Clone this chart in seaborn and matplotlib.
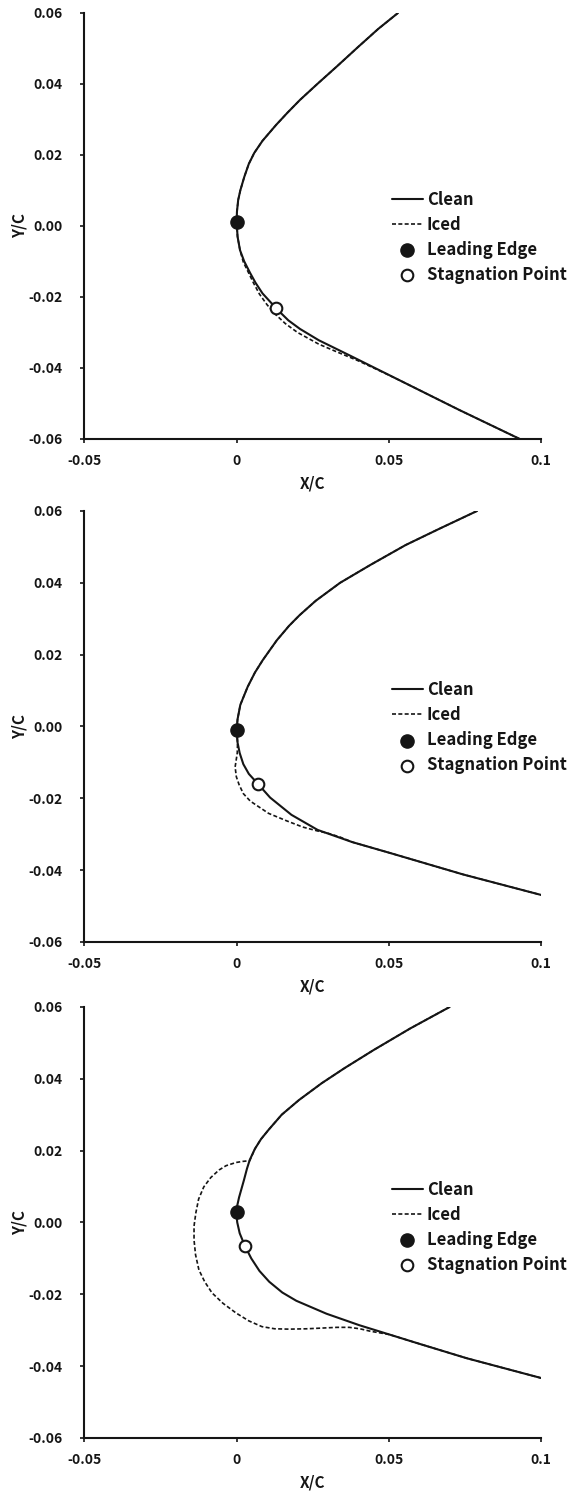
import matplotlib
matplotlib.use("Agg")
import matplotlib.pyplot as plt
import seaborn as sns

# ---------------------------------------------------------------------------
# Leading-edge geometry (X/C, Y/C) for three icing cases
# ---------------------------------------------------------------------------
# Case 1
clean1_x = [0.053, 0.0465, 0.040, 0.033, 0.0265, 0.0208, 0.0168, 0.0130, 0.0085, 0.0058,
            0.0040, 0.0025, 0.0012, 0.0005, 0.0001, 0.0000, 0.0003, 0.0011, 0.0025, 0.0044,
            0.0062, 0.0085, 0.0132, 0.0170, 0.0208, 0.0270, 0.0372, 0.0536, 0.0733, 0.093]
clean1_y = [0.060, 0.0555, 0.0505, 0.045, 0.040, 0.0355, 0.0320, 0.0285, 0.0240, 0.0206,
            0.0175, 0.0138, 0.0100, 0.0073, 0.0040, 0.0011, -0.0030, -0.0068, -0.0100, -0.0132,
            -0.0160, -0.0190, -0.0234, -0.0266, -0.0290, -0.0322, -0.0365, -0.0435, -0.0519, -0.060]
iced1_x = [0.053, 0.0465, 0.040, 0.033, 0.0265, 0.0208, 0.0168, 0.0130, 0.0085, 0.0058,
           0.0040, 0.0025, 0.0012, 0.0005, 0.0001, 0.0000, 0.0003, 0.0011, 0.0022, 0.0037,
           0.0055, 0.0075, 0.0100, 0.0125, 0.0160, 0.0200, 0.0270, 0.0330, 0.0400, 0.0480,
           0.0536, 0.0733, 0.093]
iced1_y = [0.060, 0.0555, 0.0505, 0.045, 0.040, 0.0355, 0.0320, 0.0285, 0.0240, 0.0206,
           0.0175, 0.0138, 0.0100, 0.0073, 0.0040, 0.0011, -0.0030, -0.0068, -0.0102, -0.0128,
           -0.0160, -0.0192, -0.0222, -0.0247, -0.0275, -0.0300, -0.0333, -0.0355, -0.0380, -0.0412,
           -0.0435, -0.0519, -0.060]
le1 = (0.0, 0.001)
sp1 = (0.013, -0.023)

# Case 2
clean2_x = [0.0790, 0.0665, 0.0555, 0.0440, 0.0340, 0.0260, 0.0207, 0.0172, 0.0132, 0.0086,
            0.0060, 0.0036, 0.0012, 0.0003, 0.0000, 0.0003, 0.0010, 0.0022, 0.0040, 0.0070,
            0.0110, 0.0180, 0.0266, 0.0380, 0.0503, 0.0744, 0.100]
clean2_y = [0.060, 0.055, 0.0505, 0.045, 0.040, 0.035, 0.031, 0.028, 0.024, 0.0185,
            0.0150, 0.011, 0.006, 0.002, -0.001, -0.0045, -0.0074, -0.0105, -0.0132, -0.0160,
            -0.0198, -0.0246, -0.0288, -0.0322, -0.0352, -0.0412, -0.0469]
iced2_x = [0.0790, 0.0665, 0.0555, 0.0440, 0.0340, 0.0260, 0.0207, 0.0172, 0.0132, 0.0086,
           0.0060, 0.0036, 0.0012, 0.0003, 0.0000, 0.0003, 0.0002, -0.0005, -0.0001, 0.0008,
           0.0022, 0.0045, 0.0105, 0.0165, 0.0217, 0.0266, 0.0299, 0.0340, 0.0380, 0.0503,
           0.0744, 0.100]
iced2_y = [0.060, 0.055, 0.0505, 0.045, 0.040, 0.035, 0.031, 0.028, 0.024, 0.0185,
           0.0150, 0.011, 0.006, 0.002, -0.001, -0.0045, -0.0074, -0.0113, -0.0140, -0.0162,
           -0.0187, -0.0208, -0.0242, -0.0263, -0.0280, -0.0291, -0.0297, -0.0308, -0.0322, -0.0352,
           -0.0412, -0.0469]
le2 = (0.0, -0.001)
sp2 = (0.007, -0.016)

# Case 3
clean3_x = [0.070, 0.057, 0.045, 0.0355, 0.0280, 0.0205, 0.0148, 0.0105, 0.0080, 0.0060,
            0.0043, 0.0034, 0.0024, 0.0008, -0.0002, 0.0002, 0.0010, 0.0027, 0.0048, 0.0075,
            0.0107, 0.0150, 0.0196, 0.0295, 0.0403, 0.0502, 0.0601, 0.0756, 0.100]
clean3_y = [0.060, 0.054, 0.048, 0.043, 0.0388, 0.0341, 0.030, 0.0258, 0.0232, 0.0205,
            0.0174, 0.0150, 0.0118, 0.0070, 0.0032, 0.0000, -0.0030, -0.0065, -0.0100, -0.0135,
            -0.0165, -0.0195, -0.0218, -0.0254, -0.0286, -0.0312, -0.0338, -0.0378, -0.0433]
iced3_x = [0.070, 0.057, 0.045, 0.0355, 0.0280, 0.0205, 0.0148, 0.0105, 0.0080, 0.0060,
           0.0043, 0.0020, -0.0002, -0.0035, -0.0058, -0.0085, -0.0108, -0.0125, -0.0134, -0.0140,
           -0.0140, -0.0135, -0.0124, -0.0105, -0.0081, -0.0045, -0.0002, 0.0040, 0.0083, 0.0125,
           0.0172, 0.0230, 0.0281, 0.0330, 0.0370, 0.0405, 0.0440, 0.0475, 0.0502, 0.0601,
           0.0756, 0.100]
iced3_y = [0.060, 0.054, 0.048, 0.043, 0.0388, 0.0341, 0.030, 0.0258, 0.0232, 0.0205,
           0.0172, 0.0170, 0.0167, 0.0158, 0.0146, 0.0125, 0.0099, 0.0065, 0.0027, -0.0010,
           -0.0049, -0.0090, -0.0132, -0.0165, -0.0196, -0.0225, -0.0252, -0.0274, -0.0290, -0.0296,
           -0.0297, -0.0296, -0.0294, -0.0292, -0.0292, -0.0296, -0.0303, -0.0308, -0.0312, -0.0338,
           -0.0378, -0.0433]
le3 = (0.0, 0.003)
sp3 = (0.0027, -0.0065)

x_ticks = [-0.05, 0.0, 0.05, 0.1]
x_tick_labels = ["-0.05", "0", "0.05", "0.1"]
y_ticks = [-0.06, -0.04, -0.02, 0.0, 0.02, 0.04, 0.06]
y_tick_labels = ["-0.06", "-0.04", "-0.02", "0.00", "0.02", "0.04", "0.06"]

series_labels = ["Clean", "Iced", "Leading Edge", "Stagnation Point"]

cases = [
    (clean1_x, clean1_y, iced1_x, iced1_y, le1, sp1),
    (clean2_x, clean2_y, iced2_x, iced2_y, le2, sp2),
    (clean3_x, clean3_y, iced3_x, iced3_y, le3, sp3),
]

# ---------------------------------------------------------------------------
sns.set_theme(style="ticks")
plt.rcParams["font.family"] = ["Noto Sans CJK KR", "DejaVu Sans"]
plt.rcParams["axes.unicode_minus"] = False

INK = "#151515"
fig = plt.figure(figsize=(5.7, 14.94), dpi=100)

rects = [
    (0.1482, 0.7062, 0.8009, 0.2851),
    (0.1482, 0.3695, 0.8009, 0.2885),
    (0.1482, 0.0375, 0.8009, 0.2885),
]
legend_y = [0.474, 0.497, 0.489]

for rect, (cx, cy, ix, iy, le, sp), ly in zip(rects, cases, legend_y):
    ax = fig.add_axes(rect)

    sns.lineplot(x=ix, y=iy, sort=False, estimator=None, ax=ax, color=INK,
                 linewidth=1.2, label=series_labels[1])
    ax.lines[-1].set_linestyle((0, (2.4, 1.4)))
    sns.lineplot(x=cx, y=cy, sort=False, estimator=None, ax=ax, color=INK,
                 linewidth=1.5, label=series_labels[0])
    sns.scatterplot(x=[le[0]], y=[le[1]], ax=ax, s=90, color=INK, edgecolor=INK,
                    linewidth=1, label=series_labels[2], zorder=5)
    sns.scatterplot(x=[sp[0]], y=[sp[1]], ax=ax, s=70, color="white", edgecolor=INK,
                    linewidth=1.5, label=series_labels[3], zorder=5)

    ax.set_xlim(-0.05, 0.1)
    ax.set_ylim(-0.06, 0.06)
    ax.set_xticks(x_ticks, labels=x_tick_labels)
    ax.set_yticks(y_ticks, labels=y_tick_labels)
    for lab in ax.get_xticklabels() + ax.get_yticklabels():
        lab.set_fontweight("bold")
        lab.set_fontsize(10)
        lab.set_color(INK)
    ax.tick_params(axis="both", direction="out", length=3, width=1.2, color=INK)
    ax.tick_params(axis="x", pad=8)
    ax.tick_params(axis="y", pad=13)

    sns.despine(ax=ax)
    for side in ("left", "bottom"):
        ax.spines[side].set_linewidth(1.5)
        ax.spines[side].set_color(INK)

    ax.set_xlabel("X/C", fontsize=11, fontweight="bold", color=INK, labelpad=5)
    ax.set_ylabel("Y/C", fontsize=11, fontweight="bold", color=INK, labelpad=0)

    handles, labels = ax.get_legend_handles_labels()
    lookup = dict(zip(labels, handles))
    ax.legend([lookup[k] for k in series_labels], series_labels,
              loc="center left", bbox_to_anchor=(0.673, ly), frameon=False,
              borderpad=0, borderaxespad=0, handlelength=1.86, handletextpad=0.25,
              labelspacing=0.42, prop={"size": 12, "weight": "bold"},
              labelcolor=INK)

fig.savefig("out.png", dpi=100)
